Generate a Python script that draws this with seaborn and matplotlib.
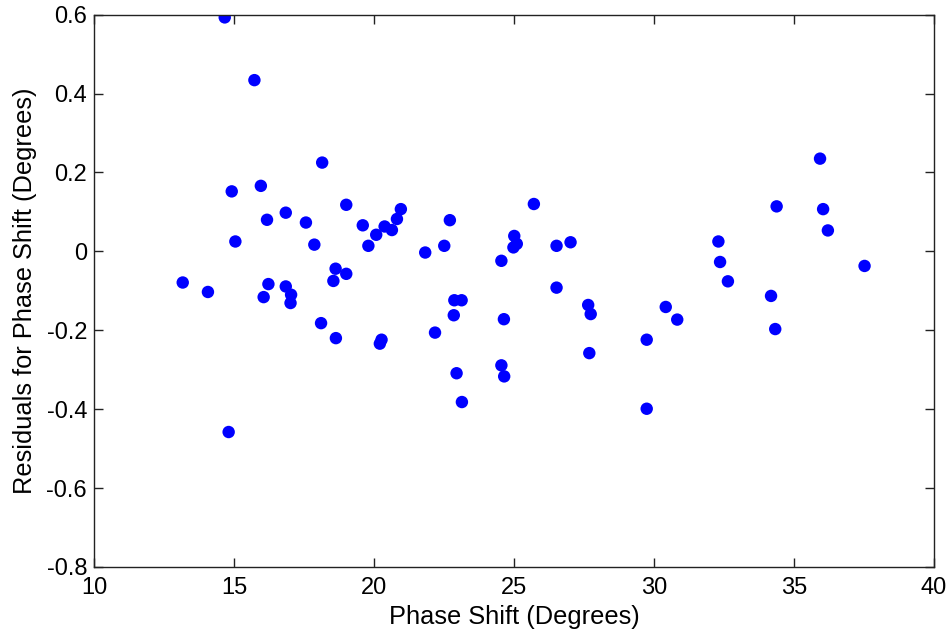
import matplotlib
matplotlib.use("Agg")
import matplotlib.pyplot as plt
import seaborn as sns
import pandas as pd

phase_shift = [
    14.67, 15.73, 18.15, 14.92, 15.96, 19.01, 16.85, 16.18, 17.57, 19.60,
    20.38, 20.08, 15.05, 17.87, 19.80, 18.63, 19.01, 18.55, 13.17, 16.23,
    16.85, 14.07, 17.04, 16.06, 17.02, 20.96, 20.82, 20.64, 22.71, 21.83,
    22.51, 25.71, 25.01, 25.10, 24.98, 26.52, 27.02, 24.55, 26.52, 22.87,
    23.13, 22.85, 24.64, 27.65, 27.74, 18.11, 18.64, 22.18, 20.27, 20.21,
    27.69, 24.55, 24.65, 22.95, 23.14, 35.93, 34.38, 36.04, 36.21, 32.30,
    32.36, 32.64, 37.52, 34.18, 34.33, 30.42, 30.83, 29.74, 29.74, 14.81,
]
residuals = [
    0.593, 0.434, 0.225, 0.152, 0.166, 0.118, 0.098, 0.080, 0.073, 0.066,
    0.063, 0.042, 0.025, 0.017, 0.014, -0.044, -0.057, -0.075, -0.079, -0.083,
    -0.089, -0.103, -0.110, -0.116, -0.131, 0.107, 0.082, 0.054, 0.079, -0.003,
    0.014, 0.120, 0.039, 0.019, 0.010, 0.014, 0.023, -0.024, -0.092, -0.124,
    -0.124, -0.162, -0.172, -0.136, -0.159, -0.182, -0.220, -0.206, -0.224, -0.234,
    -0.258, -0.289, -0.317, -0.309, -0.382, 0.235, 0.114, 0.107, 0.053, 0.025,
    -0.027, -0.076, -0.037, -0.113, -0.197, -0.141, -0.173, -0.224, -0.399, -0.458,
]
x_ticks = [10, 15, 20, 25, 30, 35, 40]
y_ticks = [-0.8, -0.6, -0.4, -0.2, 0, 0.2, 0.4, 0.6]
y_tick_labels = ["-0.8", "-0.6", "-0.4", "-0.2", "0", "0.2", "0.4", "0.6"]

df = pd.DataFrame({"x": phase_shift, "y": residuals})

sns.set_style("ticks")
plt.rcParams["font.family"] = ["Liberation Sans", "DejaVu Sans"]
plt.rcParams["axes.unicode_minus"] = False
plt.rcParams["text.color"] = "black"
plt.rcParams["axes.labelcolor"] = "black"

fig = plt.figure(figsize=(9.52, 6.37), dpi=100)
ax = fig.add_axes([0.0987, 0.110, 0.8824, 0.867])

sns.scatterplot(data=df, x="x", y="y", ax=ax, color="#0000ff", s=80,
                edgecolor="none", linewidth=0, legend=False)

ax.set_xlim(10, 40)
ax.set_ylim(-0.8, 0.6)
ax.set_xticks(x_ticks)
ax.set_xticklabels([str(t) for t in x_ticks])
ax.set_yticks(y_ticks)
ax.set_yticklabels(y_tick_labels)
ax.tick_params(direction="in", length=6.5, width=1.0, top=True, right=True,
               labelsize=17, colors="#222222", labelcolor="black")
ax.tick_params(axis="x", pad=7)
ax.tick_params(axis="y", pad=5)
for sp in ax.spines.values():
    sp.set_visible(True)
    sp.set_linewidth(1.0)
    sp.set_color("#222222")

ax.set_xlabel("Phase Shift (Degrees)", fontsize=18.3, labelpad=4.5)
ax.set_ylabel("Residuals for Phase Shift (Degrees)", fontsize=18.3, labelpad=7)

fig.savefig("out.png", dpi=100, facecolor="white")
